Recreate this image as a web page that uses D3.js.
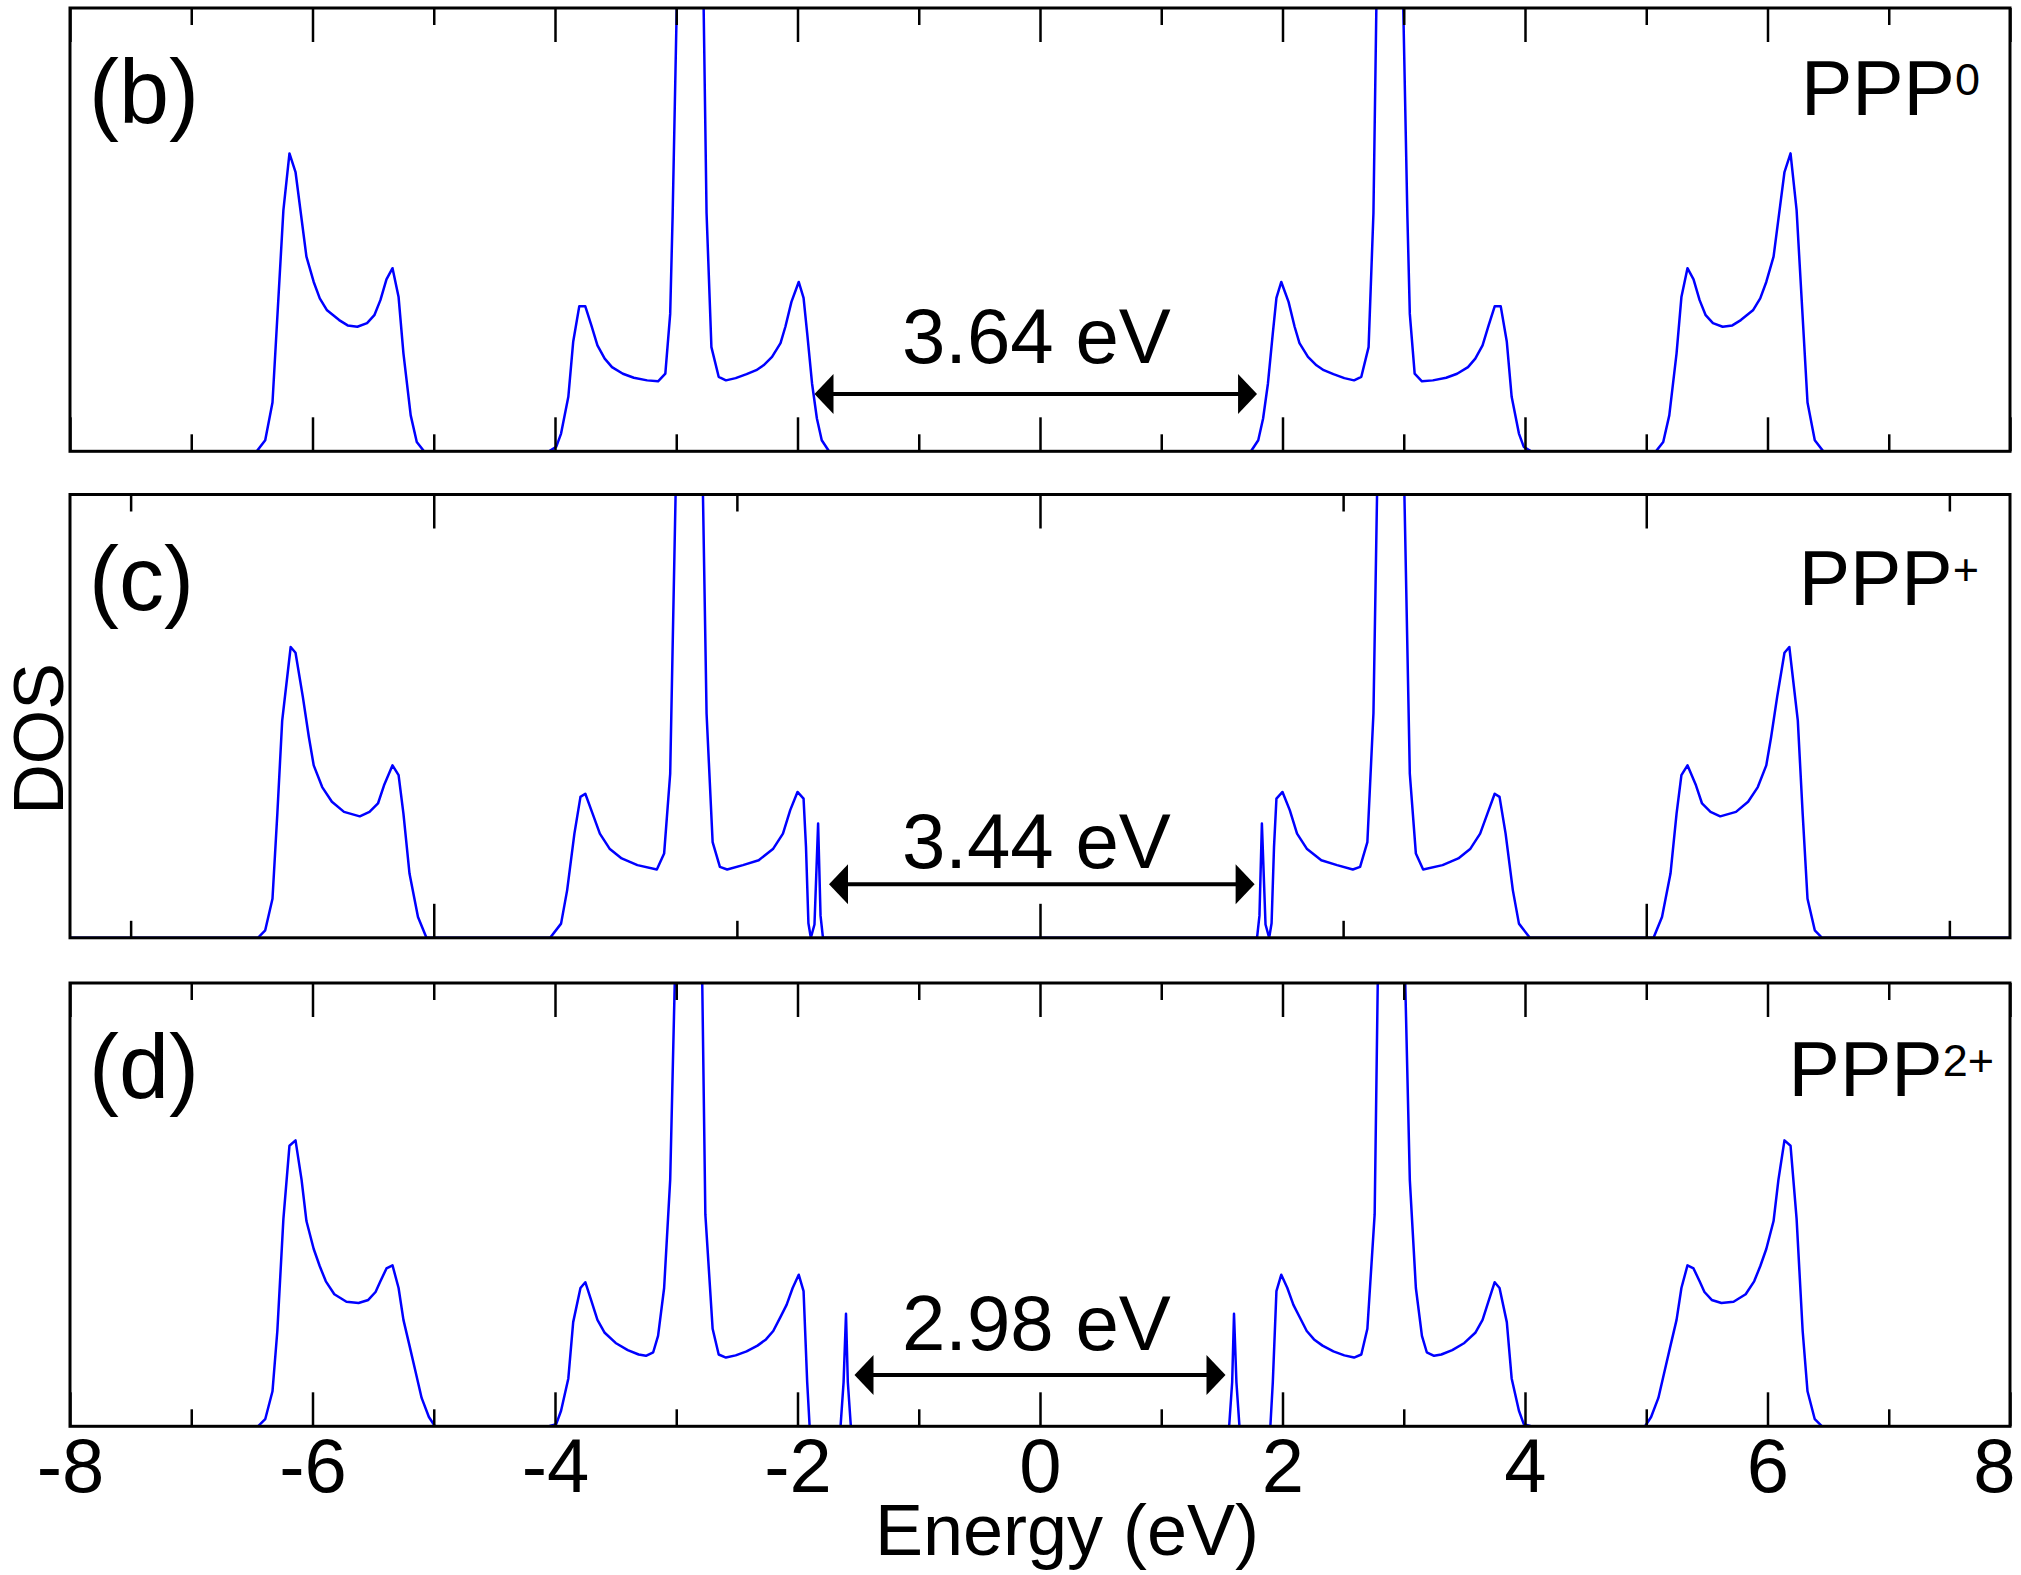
<!DOCTYPE html>
<html>
<head>
<meta charset="utf-8">
<script src="https://cdn.jsdelivr.net/npm/d3@7"></script>
<style>
body { margin: 0; background: #fff; }
text { font-family: "Liberation Sans", Arial, Helvetica, sans-serif; fill: #000; }
</style>
</head>
<body>
<script>
// ---------- data ----------
var panelNames = ["(b)", "(c)", "(d)"];
var speciesBase = ["PPP", "PPP", "PPP"];
var speciesCharge = ["0", "+", "2+"];
var gapLabels = ["3.64 eV", "3.44 eV", "2.98 eV"];
// arrow ends (eV)
var gapEnds = [[-1.86, 1.79], [-1.74, 1.77], [-1.53, 1.53]];

var xTickLabels = ["-8", "-6", "-4", "-2", "0", "2", "4", "6", "8"];
var xTickValues = [-8, -6, -4, -2, 0, 2, 4, 6, 8];
var majorTicks = [[-8, -6, -4, -2, 0, 2, 4, 6, 8], [-5, 0, 5], [-8, -6, -4, -2, 0, 2, 4, 6, 8]];
var minorTicks = [[-7, -5, -3, -1, 1, 3, 5, 7], [-7.5, -2.5, 2.5, 7.5], [-7, -5, -3, -1, 1, 3, 5, 7]];

// DOS curves, [energy eV, DOS (panel fraction)]
var dosPPP0 = [
  [-8, 0], [-6.46, 0], [-6.39, 0.025], [-6.33, 0.11], [-6.24, 0.544], [-6.19, 0.672], [-6.14, 0.63],
  [-6.05, 0.439], [-5.99, 0.382], [-5.94, 0.345], [-5.88, 0.318], [-5.78, 0.296], [-5.71, 0.284],
  [-5.63, 0.281], [-5.55, 0.289], [-5.49, 0.307], [-5.44, 0.341], [-5.39, 0.388], [-5.34, 0.413],
  [-5.29, 0.348], [-5.25, 0.221], [-5.19, 0.081], [-5.14, 0.021], [-5.08, 0],
  [-4.05, 0], [-3.99, 0.01], [-3.95, 0.04], [-3.89, 0.123], [-3.85, 0.247], [-3.80, 0.327], [-3.75, 0.327],
  [-3.70, 0.284], [-3.65, 0.239], [-3.59, 0.209], [-3.53, 0.19], [-3.44, 0.175], [-3.35, 0.166],
  [-3.24, 0.16], [-3.15, 0.158], [-3.09, 0.175], [-3.05, 0.31], [-3.03, 0.53], [-2.96, 1.5], [-2.88, 2.0],
  [-2.80, 1.5], [-2.75, 0.537], [-2.71, 0.235], [-2.65, 0.168], [-2.59, 0.16], [-2.51, 0.165],
  [-2.42, 0.174], [-2.34, 0.183], [-2.28, 0.194], [-2.21, 0.213], [-2.14, 0.244], [-2.10, 0.281],
  [-2.05, 0.337], [-1.99, 0.382], [-1.95, 0.346], [-1.92, 0.266], [-1.88, 0.153], [-1.84, 0.074],
  [-1.80, 0.025], [-1.74, 0],
  [1.74, 0], [1.80, 0.025], [1.84, 0.074], [1.88, 0.153], [1.92, 0.266], [1.95, 0.346], [1.99, 0.382],
  [2.05, 0.337], [2.10, 0.281], [2.14, 0.244], [2.21, 0.213], [2.28, 0.194], [2.34, 0.183], [2.42, 0.174],
  [2.51, 0.165], [2.59, 0.16], [2.65, 0.168], [2.71, 0.235], [2.75, 0.537], [2.80, 1.5], [2.88, 2.0],
  [2.96, 1.5], [3.03, 0.53], [3.05, 0.31], [3.09, 0.175], [3.15, 0.158], [3.24, 0.16], [3.35, 0.166],
  [3.44, 0.175], [3.53, 0.19], [3.59, 0.209], [3.65, 0.239], [3.70, 0.284], [3.75, 0.327], [3.80, 0.327],
  [3.85, 0.247], [3.89, 0.123], [3.95, 0.04], [3.99, 0.01], [4.05, 0],
  [5.08, 0], [5.14, 0.021], [5.19, 0.081], [5.25, 0.221], [5.29, 0.348], [5.34, 0.413], [5.39, 0.388],
  [5.44, 0.341], [5.49, 0.307], [5.55, 0.289], [5.63, 0.281], [5.71, 0.284], [5.78, 0.296], [5.88, 0.318],
  [5.94, 0.345], [5.99, 0.382], [6.05, 0.439], [6.14, 0.63], [6.19, 0.672], [6.24, 0.544], [6.33, 0.11],
  [6.39, 0.025], [6.46, 0], [8, 0]
];

var dosPPP1 = [
  [-8, 0], [-6.45, 0], [-6.39, 0.017], [-6.33, 0.088], [-6.29, 0.28], [-6.25, 0.49], [-6.18, 0.656],
  [-6.14, 0.643], [-6.08, 0.544], [-6.03, 0.453], [-5.99, 0.389], [-5.92, 0.34], [-5.84, 0.307],
  [-5.74, 0.284], [-5.61, 0.274], [-5.53, 0.284], [-5.46, 0.303], [-5.41, 0.344], [-5.34, 0.389],
  [-5.29, 0.367], [-5.25, 0.28], [-5.20, 0.145], [-5.13, 0.047], [-5.06, 0],
  [-4.04, 0], [-3.95, 0.032], [-3.90, 0.107], [-3.84, 0.235], [-3.79, 0.318], [-3.75, 0.325],
  [-3.69, 0.28], [-3.63, 0.235], [-3.55, 0.201], [-3.45, 0.179], [-3.32, 0.164], [-3.16, 0.154],
  [-3.10, 0.19], [-3.05, 0.37], [-2.97, 1.5], [-2.89, 2.0], [-2.81, 1.5], [-2.75, 0.506], [-2.70, 0.216],
  [-2.64, 0.16], [-2.58, 0.154], [-2.45, 0.164], [-2.32, 0.175], [-2.20, 0.201], [-2.12, 0.235],
  [-2.06, 0.288], [-2.00, 0.329], [-1.95, 0.314], [-1.93, 0.205], [-1.91, 0.033], [-1.89, 0],
  [-1.86, 0.03], [-1.83, 0.258], [-1.81, 0.05], [-1.79, 0],
  [1.79, 0], [1.81, 0.05], [1.83, 0.258], [1.86, 0.03], [1.89, 0], [1.91, 0.033], [1.93, 0.205],
  [1.95, 0.314], [2.00, 0.329], [2.06, 0.288], [2.12, 0.235], [2.20, 0.201], [2.32, 0.175], [2.45, 0.164],
  [2.58, 0.154], [2.64, 0.16], [2.70, 0.216], [2.75, 0.506], [2.81, 1.5], [2.89, 2.0], [2.97, 1.5],
  [3.05, 0.37], [3.10, 0.19], [3.16, 0.154], [3.32, 0.164], [3.45, 0.179], [3.55, 0.201], [3.63, 0.235],
  [3.69, 0.28], [3.75, 0.325], [3.79, 0.318], [3.84, 0.235], [3.90, 0.107], [3.95, 0.032], [4.04, 0],
  [5.06, 0], [5.13, 0.047], [5.20, 0.145], [5.25, 0.28], [5.29, 0.367], [5.34, 0.389], [5.41, 0.344],
  [5.46, 0.303], [5.53, 0.284], [5.61, 0.274], [5.74, 0.284], [5.84, 0.307], [5.92, 0.34], [5.99, 0.389],
  [6.03, 0.453], [6.08, 0.544], [6.14, 0.643], [6.18, 0.656], [6.25, 0.49], [6.29, 0.28], [6.33, 0.088],
  [6.39, 0.017], [6.45, 0], [8, 0]
];

var dosPPP2 = [
  [-8, 0], [-6.45, 0], [-6.39, 0.016], [-6.33, 0.079], [-6.29, 0.215], [-6.24, 0.468], [-6.19, 0.633],
  [-6.14, 0.645], [-6.09, 0.556], [-6.05, 0.463], [-5.99, 0.4], [-5.94, 0.361], [-5.89, 0.327],
  [-5.82, 0.298], [-5.72, 0.281], [-5.62, 0.278], [-5.54, 0.285], [-5.48, 0.303], [-5.44, 0.327],
  [-5.39, 0.356], [-5.34, 0.363], [-5.29, 0.312], [-5.25, 0.24], [-5.20, 0.182], [-5.15, 0.123],
  [-5.10, 0.064], [-5.04, 0.021], [-4.99, 0],
  [-4.05, 0], [-3.99, 0.005], [-3.95, 0.035], [-3.89, 0.108], [-3.85, 0.235], [-3.79, 0.312],
  [-3.75, 0.325], [-3.70, 0.283], [-3.65, 0.24], [-3.59, 0.211], [-3.50, 0.188], [-3.40, 0.172],
  [-3.31, 0.162], [-3.25, 0.159], [-3.19, 0.167], [-3.15, 0.204], [-3.10, 0.312], [-3.05, 0.556],
  [-2.97, 1.5], [-2.89, 2.0], [-2.81, 1.5], [-2.76, 0.478], [-2.70, 0.22], [-2.65, 0.162], [-2.59, 0.155],
  [-2.51, 0.16], [-2.42, 0.169], [-2.33, 0.182], [-2.26, 0.196], [-2.20, 0.215], [-2.14, 0.247],
  [-2.09, 0.274], [-2.04, 0.312], [-1.99, 0.342], [-1.95, 0.305], [-1.92, 0.099], [-1.90, 0],
  [-1.645, 0], [-1.62, 0.099], [-1.60, 0.254], [-1.585, 0.1], [-1.56, 0],
  [1.56, 0], [1.585, 0.1], [1.60, 0.254], [1.62, 0.099], [1.645, 0],
  [1.90, 0], [1.92, 0.099], [1.95, 0.305], [1.99, 0.342], [2.04, 0.312], [2.09, 0.274], [2.14, 0.247],
  [2.20, 0.215], [2.26, 0.196], [2.33, 0.182], [2.42, 0.169], [2.51, 0.16], [2.59, 0.155], [2.65, 0.162],
  [2.70, 0.22], [2.76, 0.478], [2.81, 1.5], [2.89, 2.0], [2.97, 1.5], [3.05, 0.556], [3.10, 0.312],
  [3.15, 0.204], [3.19, 0.167], [3.25, 0.159], [3.31, 0.162], [3.40, 0.172], [3.50, 0.188], [3.59, 0.211],
  [3.65, 0.24], [3.70, 0.283], [3.75, 0.325], [3.79, 0.312], [3.85, 0.235], [3.89, 0.108], [3.95, 0.035],
  [3.99, 0.005], [4.05, 0],
  [4.99, 0], [5.04, 0.021], [5.10, 0.064], [5.15, 0.123], [5.20, 0.182], [5.25, 0.24], [5.29, 0.312],
  [5.34, 0.363], [5.39, 0.356], [5.44, 0.327], [5.48, 0.303], [5.54, 0.285], [5.62, 0.278], [5.72, 0.281],
  [5.82, 0.298], [5.89, 0.327], [5.94, 0.361], [5.99, 0.4], [6.05, 0.463], [6.09, 0.556], [6.14, 0.645],
  [6.19, 0.633], [6.24, 0.468], [6.29, 0.215], [6.33, 0.079], [6.39, 0.016], [6.45, 0], [8, 0]
];

var dosSeries = [dosPPP0, dosPPP1, dosPPP2];

// ---------- layout ----------
var w = 2021, h = 1575;
var pdL = 70, pdR = 11;
var panelTop = [8, 494.5, 983];
var panelH = 443.3;
var tickMajor = 34, tickMinor = 17;

// label placement per panel (px offsets from panel top)
var nameX = 89, nameDy = 115;
var specEndX = [1980, 1979, 1994];   // right end of the species label
var specDy = [107, 110.5, 113];
var arrowLevel = [0.129, 0.121, 0.116];   // in DOS units
var gapTextLevel = [0.199, 0.157, 0.172];
var gapTextE = -0.03;

var svg = d3.select("body").append("svg")
  .attr("width", w)
  .attr("height", h);

var scaleX = d3.scaleLinear().domain([-8, 8]).range([pdL, w - pdR]);

var lineGen = d3.line();

function drawPanel(p) {
  var pTop = panelTop[p];
  var pBot = pTop + panelH;
  var scaleY = d3.scaleLinear().domain([0, 1]).range([pBot, pTop]);

  // clip for the curve (central spikes run off the top)
  svg.append("clipPath").attr("id", "clip" + p)
    .append("rect")
    .attr("x", pdL).attr("y", pTop)
    .attr("width", w - pdR - pdL).attr("height", panelH);

  var pts = dosSeries[p].map(function(d) { return [scaleX(d[0]), scaleY(d[1])]; });
  svg.append("path")
    .attr("d", lineGen(pts))
    .attr("clip-path", "url(#clip" + p + ")")
    .attr("fill", "none")
    .attr("stroke", "#0000ff")
    .attr("stroke-width", 2.5)
    .attr("stroke-linejoin", "round");

  // inward ticks top and bottom
  var axes = [
    [d3.axisBottom(scaleX).tickValues(majorTicks[p]).tickSize(-tickMajor), pBot],
    [d3.axisBottom(scaleX).tickValues(minorTicks[p]).tickSize(-tickMinor), pBot],
    [d3.axisTop(scaleX).tickValues(majorTicks[p]).tickSize(-tickMajor), pTop],
    [d3.axisTop(scaleX).tickValues(minorTicks[p]).tickSize(-tickMinor), pTop]
  ];
  axes.forEach(function(a) {
    var g = svg.append("g")
      .attr("transform", "translate(0," + a[1] + ")")
      .call(a[0].tickFormat(""));
    g.select(".domain").remove();
    g.selectAll("text").remove();
    g.selectAll("line").attr("stroke", "#000").attr("stroke-width", 2.5);
  });

  // frame
  svg.append("rect")
    .attr("x", pdL).attr("y", pTop)
    .attr("width", w - pdR - pdL).attr("height", panelH)
    .attr("fill", "none")
    .attr("stroke", "#000")
    .attr("stroke-width", 3);

  // panel letter
  svg.append("text")
    .text(panelNames[p])
    .attr("x", nameX)
    .attr("y", pTop + nameDy)
    .attr("font-size", 90);

  // species label with superscript charge
  var sp = svg.append("text")
    .attr("x", specEndX[p])
    .attr("y", pTop + specDy[p])
    .attr("text-anchor", "end")
    .attr("font-size", 77);
  sp.append("tspan").text(speciesBase[p]);
  sp.append("tspan").text(speciesCharge[p])
    .attr("font-size", 45)
    .attr("dy", -20);

  // gap arrow
  var ay = scaleY(arrowLevel[p]);
  var xa = scaleX(gapEnds[p][0]);
  var xb = scaleX(gapEnds[p][1]);
  var headL = 19, headW = 20;
  svg.append("line")
    .attr("x1", xa + headL - 2).attr("x2", xb - headL + 2)
    .attr("y1", ay).attr("y2", ay)
    .attr("stroke", "#000").attr("stroke-width", 4);
  svg.append("path")
    .attr("d", "M" + xa + "," + ay + "L" + (xa + headL) + "," + (ay - headW) + "L" + (xa + headL) + "," + (ay + headW) + "Z")
    .attr("fill", "#000");
  svg.append("path")
    .attr("d", "M" + xb + "," + ay + "L" + (xb - headL) + "," + (ay - headW) + "L" + (xb - headL) + "," + (ay + headW) + "Z")
    .attr("fill", "#000");

  svg.append("text")
    .text(gapLabels[p])
    .attr("x", scaleX(gapTextE))
    .attr("y", scaleY(gapTextLevel[p]))
    .attr("text-anchor", "middle")
    .attr("font-size", 78);

  // tick labels on the bottom panel
  if (p === 2) {
    var gx = svg.append("g")
      .attr("transform", "translate(0," + pBot + ")")
      .call(d3.axisBottom(scaleX).tickValues(xTickValues).tickSize(0)
        .tickFormat(function(d, i) { return xTickLabels[i]; }));
    gx.select(".domain").remove();
    gx.attr("font-family", null).attr("font-size", null);
    gx.selectAll("text")
      .attr("y", 66)
      .attr("dy", 0)
      .attr("font-size", 76)
      .attr("fill", "#000")
      .attr("text-anchor", function(d) { return d === 8 ? "end" : "middle"; })
      .attr("x", function(d) { return d === 8 ? 5 : 0; });
  }
}

for (var p = 0; p < 3; p++) {
  drawPanel(p);
}

// axis titles
svg.append("text")
  .text("Energy (eV)")
  .attr("x", 1067)
  .attr("y", 1555)
  .attr("text-anchor", "middle")
  .attr("font-size", 72);

svg.append("text")
  .text("DOS")
  .attr("transform", "translate(63,739) rotate(-90)")
  .attr("text-anchor", "middle")
  .attr("font-size", 70);
</script>
</body>
</html>
